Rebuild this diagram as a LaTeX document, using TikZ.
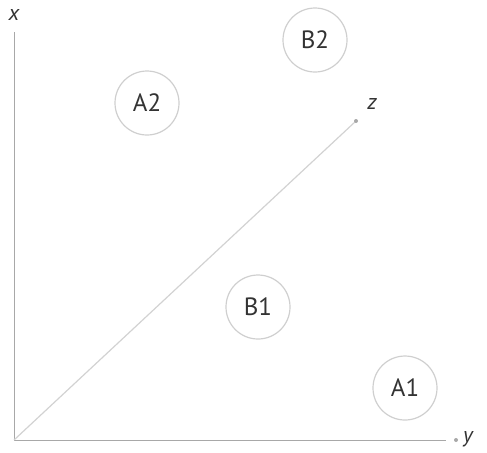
\documentclass[tikz,border=0pt]{standalone}
\usepackage{fontspec}
\setsansfont{PT Sans}
\usepackage{xcolor}
\usetikzlibrary{positioning}
\definecolor{axisgray}{HTML}{A8A8A8}
\definecolor{diaggray}{HTML}{D2D2D2}
\definecolor{ringgray}{HTML}{CFCFCF}
\definecolor{textgray}{HTML}{333333}

\begin{document}
\begin{tikzpicture}[
  x=0.5pt, y=-0.5pt,
  pt/.style={circle, draw=ringgray, line width=0.6pt, minimum size=32pt, inner sep=0pt,
    font=\sffamily\fontsize{12.5}{14}\selectfont, text=textgray},
  lab/.style={font=\sffamily\itshape\fontsize{11}{13}\selectfont, text=textgray},
  axis/.style={draw=axisgray, line width=0.5pt}
]
\useasboundingbox (0,0) rectangle (487,452);
\coordinate (origin) at (14,440);
\coordinate (xend) at (14,32);
\coordinate (yend) at (446,440);
\coordinate (zend) at (356,121);
\node[lab] (xlab) at (14,15) {x};
\node[lab] (ylab) at (468,439) {y};
\node[lab] (zlab) at (372,104) {z};
\draw[axis] (origin) -- (xend);
\draw[axis] (origin) -- (yend);
\draw[draw=diaggray, line width=0.6pt] (origin) -- (zend);
\fill[axisgray] (456,440) circle (1pt);
\fill[axisgray] (zend) circle (1pt);
\node[pt] (A2) at (147,103) {A2};
\node[pt] (B2) at (315,40) {B2};
\node[pt] (B1) at (258,307) {B1};
\node[pt] (A1) at (405,388) {A1};
\end{tikzpicture}
\end{document}
